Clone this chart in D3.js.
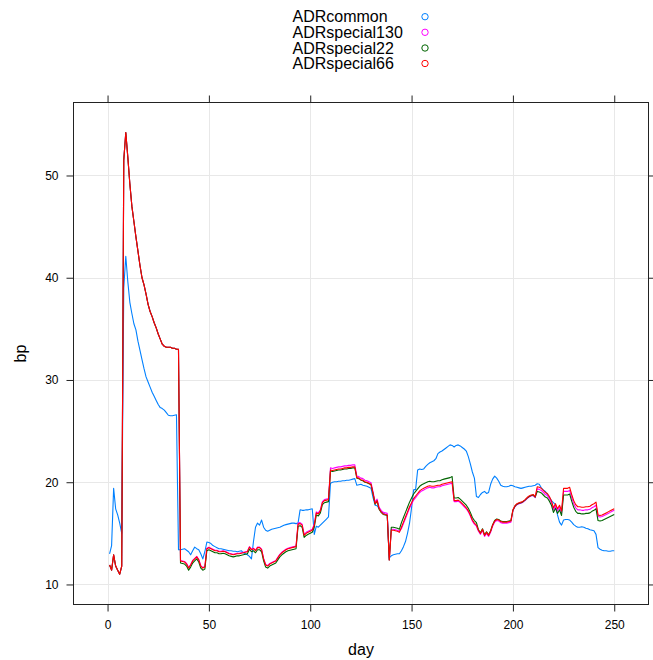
<!DOCTYPE html>
<html>
<head>
<meta charset="utf-8">
<script src="https://cdn.jsdelivr.net/npm/d3@7/dist/d3.min.js"></script>
<style>
  html, body { margin: 0; padding: 0; background: #fff; }
  svg { display: block; font-family: "Liberation Sans", Arial, Helvetica, sans-serif; }
</style>
</head>
<body>
<svg id="chart" width="653" height="660"></svg>
<script>
// Daily spread series (bp) for days 1..250
const days = d3.range(1, 251);

const seriesNames = ["ADRcommon", "ADRspecial130", "ADRspecial22", "ADRspecial66"];
const seriesColors = ["#0080ff", "#ff00ff", "#006400", "#ff0000"];

const ADRcommon = [
  13.0, 13.8, 19.4, 17.4, 16.8, 16.0, 15.0, 39.0, 42.1, 39.6,
  37.6, 36.5, 35.5, 34.9, 33.8, 32.9, 32.0, 31.1, 30.3, 29.8,
  29.3, 28.8, 28.4, 28.0, 27.6, 27.3, 27.2, 27.05, 26.8, 26.55,
  26.5, 26.5, 26.55, 26.6, 13.4, 13.4, 13.45, 13.5, 13.35, 13.2,
  12.9, 13.3, 13.65, 13.5, 13.4, 13.0, 12.5, 13.2, 14.15, 14.1,
  14.0, 13.8, 13.7, 13.6, 13.5, 13.5, 13.45, 13.4, 13.35, 13.3,
  13.3, 13.25, 13.25, 13.2, 13.25, 13.3, 13.1, 13.0, 12.9, 12.75,
  12.5, 14.2, 15.6, 16.0, 15.8, 16.3, 15.6, 15.3, 15.2, 15.3,
  15.4, 15.45, 15.5, 15.55, 15.6, 15.7, 15.8, 15.85, 15.9, 15.95,
  16.0, 16.0, 15.95, 16.0, 17.3, 17.25, 17.25, 17.3, 17.3, 17.35,
  17.4, 14.9, 15.7, 15.6, 15.8, 16.0, 16.2, 16.4, 16.6, 19.9,
  20.0, 20.05, 20.05, 20.1, 20.1, 20.15, 20.15, 20.2, 20.2, 20.25,
  20.3, 20.35, 19.7, 19.75, 19.8, 19.7, 19.65, 19.6, 19.5, 19.4,
  18.5, 17.75, 17.7, 17.4, 17.1, 17.0, 16.85, 16.8, 12.6, 12.8,
  12.9, 12.95, 13.0, 13.0, 13.3, 13.7, 14.2, 15.0, 16.0, 17.5,
  19.25, 19.3, 21.2, 21.3, 21.25, 21.3, 21.55, 21.75, 21.9, 22.0,
  22.1, 22.3, 22.8, 22.95, 23.05, 23.2, 23.35, 23.5, 23.65, 23.6,
  23.45, 23.6, 23.65, 23.55, 23.4, 23.25, 23.05, 22.5, 21.8, 21.0,
  20.4, 18.6, 18.5, 18.8, 19.0, 19.1, 18.9, 19.0, 19.8, 20.3,
  20.6, 20.4, 20.1, 19.7, 19.6, 19.55, 19.55, 19.6, 19.7, 19.65,
  19.55, 19.5, 19.45, 19.4, 19.45, 19.5, 19.55, 19.6, 19.6, 19.65,
  19.7, 19.85, 19.8, 19.45, 19.25, 19.1, 18.8, 18.5, 18.2, 18.0,
  17.8, 16.8, 16.1, 15.8, 16.3, 16.35, 16.35, 16.3, 16.1, 15.85,
  15.7, 15.6, 15.6, 15.65, 15.6, 15.5, 15.45, 15.35, 15.3, 15.25,
  14.9, 13.6, 13.45, 13.35, 13.3, 13.3, 13.25, 13.25, 13.3, 13.3
];

const ADRspecial130 = [
  11.9, 11.4, 12.9, 11.8, 11.4, 11.0, 11.8, 51.5, 54.2, 51.8,
  49.2, 47.0, 45.5, 44.0, 42.6, 41.2, 40.0, 39.3, 38.4, 37.4,
  36.7, 36.2, 35.6, 35.1, 34.5, 34.0, 33.5, 33.3, 33.2, 33.2,
  33.2, 33.1, 33.1, 33.0, 33.0, 12.35, 12.3, 12.25, 12.05, 11.65,
  11.95, 12.35, 12.55, 12.75, 12.45, 11.85, 11.65, 11.75, 13.55, 13.65,
  13.55, 13.45, 13.35, 13.35, 13.25, 13.25, 13.3, 13.25, 13.15, 13.05,
  13.0, 12.95, 13.0, 13.05, 13.05, 13.1, 13.15, 13.2, 13.25, 13.7,
  13.45, 13.55, 13.35, 13.65, 13.65, 13.45, 12.55, 11.95, 11.85, 12.05,
  12.15, 12.25, 12.35, 12.65, 12.95, 13.15, 13.3, 13.45, 13.55, 13.6,
  13.65, 13.7, 13.75, 16.0, 16.05, 15.9, 14.9, 15.1, 15.2, 15.3,
  15.4, 15.9, 17.1, 17.0, 17.3, 18.1, 18.3, 18.35, 18.4, 21.4,
  21.35, 21.4, 21.45, 21.5, 21.5, 21.55, 21.6, 21.6, 21.65, 21.65,
  21.7, 21.7, 20.6, 20.55, 20.4, 20.35, 20.2, 20.15, 20.05, 19.95,
  19.05, 18.05, 18.35, 17.55, 17.25, 17.05, 17.0, 16.95, 12.4, 15.4,
  15.4, 15.35, 15.3, 15.2, 15.45, 15.95, 16.45, 16.95, 17.45, 17.85,
  18.25, 18.5, 18.75, 19.0, 19.15, 19.25, 19.35, 19.45, 19.5, 19.45,
  19.45, 19.5, 19.55, 19.55, 19.65, 19.7, 19.75, 19.8, 19.85, 19.9,
  18.1, 18.1, 18.15, 18.0, 17.8, 17.6, 17.4, 17.1, 16.7, 16.2,
  15.9, 15.7, 15.2, 14.9, 15.3, 14.7, 15.0, 14.7, 15.1, 15.7,
  16.1, 16.25, 16.2, 16.05, 16.0, 16.0, 16.0, 16.05, 16.1, 17.2,
  17.6, 17.8, 17.9, 17.95, 18.05, 18.2, 18.4, 18.55, 18.65, 18.7,
  18.5, 19.35, 19.3, 19.2, 19.0, 18.8, 18.7, 18.4, 18.0, 17.3,
  17.7, 17.2, 17.55, 17.0, 19.1, 19.1, 19.1, 19.2, 18.5, 17.9,
  17.5, 17.3, 17.3, 17.25, 17.25, 17.3, 17.3, 17.35, 17.5, 17.6,
  17.75, 16.65, 16.6, 16.65, 16.75, 16.85, 16.95, 17.05, 17.15, 17.25
];

const ADRspecial22 = [
  11.9, 11.4, 12.9, 11.8, 11.4, 11.0, 11.8, 51.5, 54.2, 51.8,
  49.2, 47.0, 45.5, 44.0, 42.6, 41.2, 40.0, 39.3, 38.4, 37.4,
  36.7, 36.2, 35.6, 35.1, 34.5, 34.0, 33.5, 33.3, 33.2, 33.2,
  33.2, 33.1, 33.1, 33.0, 33.0, 12.1, 12.05, 12.0, 11.8, 11.4,
  11.7, 12.1, 12.3, 12.5, 12.2, 11.6, 11.4, 11.5, 13.3, 13.4,
  13.3, 13.2, 13.1, 13.1, 13.0, 13.0, 13.05, 13.0, 12.9, 12.8,
  12.75, 12.7, 12.75, 12.8, 12.8, 12.85, 12.9, 12.95, 13.0, 13.45,
  13.2, 13.3, 13.1, 13.4, 13.4, 13.2, 12.3, 11.7, 11.6, 11.8,
  11.9, 12.0, 12.1, 12.4, 12.7, 12.9, 13.05, 13.2, 13.3, 13.35,
  13.4, 13.45, 13.5, 15.7, 15.75, 15.6, 14.6, 14.8, 14.9, 15.0,
  15.1, 15.6, 16.8, 16.7, 17.0, 17.8, 18.0, 18.05, 18.1, 21.1,
  21.05, 21.1, 21.15, 21.2, 21.2, 21.25, 21.3, 21.3, 21.35, 21.35,
  21.4, 21.4, 20.4, 20.35, 20.2, 20.15, 20.0, 19.95, 19.85, 19.75,
  18.85, 17.85, 18.15, 17.35, 17.05, 16.85, 16.8, 16.75, 12.4, 15.6,
  15.6, 15.55, 15.5, 15.4, 16.05, 16.55, 17.05, 17.55, 18.05, 18.45,
  18.85, 19.1, 19.35, 19.6, 19.75, 19.85, 19.95, 20.05, 20.1, 20.05,
  20.05, 20.1, 20.15, 20.15, 20.25, 20.3, 20.35, 20.4, 20.45, 20.55,
  18.45, 18.45, 18.5, 18.35, 18.15, 17.95, 17.75, 17.45, 17.05, 16.55,
  16.25, 16.05, 15.35, 15.05, 15.45, 14.85, 15.15, 14.85, 15.25, 15.85,
  16.25, 16.4, 16.35, 16.2, 16.15, 16.15, 16.15, 16.2, 16.25, 17.25,
  17.65, 17.85, 17.95, 18.0, 18.1, 18.25, 18.45, 18.6, 18.7, 18.75,
  18.55, 19.1, 19.05, 18.95, 18.75, 18.55, 18.45, 18.15, 17.75, 17.05,
  17.45, 16.95, 17.3, 16.75, 18.75, 18.75, 18.75, 18.85, 18.15, 17.55,
  17.15, 16.95, 16.95, 16.9, 16.9, 16.95, 16.95, 17.0, 17.15, 17.25,
  17.4, 16.25, 16.2, 16.25, 16.35, 16.45, 16.55, 16.65, 16.75, 16.85
];

const ADRspecial66 = [
  11.9, 11.4, 12.9, 11.8, 11.4, 11.0, 11.8, 51.5, 54.2, 51.8,
  49.2, 47.0, 45.5, 44.0, 42.6, 41.2, 40.0, 39.3, 38.4, 37.4,
  36.7, 36.2, 35.6, 35.1, 34.5, 34.0, 33.5, 33.3, 33.2, 33.2,
  33.2, 33.1, 33.1, 33.0, 33.0, 12.3, 12.25, 12.2, 12.0, 11.6,
  11.9, 12.3, 12.5, 12.7, 12.4, 11.8, 11.6, 11.7, 13.5, 13.6,
  13.5, 13.4, 13.3, 13.3, 13.2, 13.2, 13.25, 13.2, 13.1, 13.0,
  12.95, 12.9, 12.95, 13.0, 13.0, 13.05, 13.1, 13.15, 13.2, 13.65,
  13.4, 13.5, 13.3, 13.6, 13.6, 13.4, 12.5, 11.9, 11.8, 12.0,
  12.1, 12.2, 12.3, 12.6, 12.9, 13.1, 13.25, 13.4, 13.5, 13.55,
  13.6, 13.65, 13.7, 15.9, 15.95, 15.8, 14.8, 15.0, 15.1, 15.2,
  15.3, 15.8, 17.0, 16.9, 17.2, 18.0, 18.2, 18.25, 18.3, 21.2,
  21.15, 21.2, 21.25, 21.3, 21.3, 21.35, 21.4, 21.4, 21.45, 21.45,
  21.5, 21.5, 20.45, 20.4, 20.25, 20.2, 20.05, 20.0, 19.9, 19.8,
  18.9, 17.9, 18.2, 17.4, 17.1, 16.9, 16.85, 16.8, 12.4, 15.3,
  15.3, 15.25, 15.2, 15.1, 15.6, 16.1, 16.6, 17.1, 17.6, 18.0,
  18.4, 18.65, 18.9, 19.15, 19.3, 19.4, 19.5, 19.6, 19.65, 19.6,
  19.6, 19.65, 19.7, 19.7, 19.8, 19.85, 19.9, 19.95, 20.0, 20.05,
  18.2, 18.2, 18.25, 18.1, 17.9, 17.7, 17.5, 17.2, 16.8, 16.3,
  16.0, 15.8, 15.3, 15.0, 15.4, 14.8, 15.1, 14.8, 15.2, 15.8,
  16.2, 16.35, 16.3, 16.15, 16.1, 16.1, 16.1, 16.15, 16.2, 17.3,
  17.7, 17.9, 18.0, 18.05, 18.15, 18.3, 18.5, 18.65, 18.75, 18.8,
  18.6, 19.55, 19.5, 19.4, 19.2, 19.0, 18.9, 18.6, 18.2, 17.5,
  17.9, 17.4, 17.75, 17.2, 19.4, 19.4, 19.4, 19.5, 18.8, 18.2,
  17.8, 17.6, 17.6, 17.55, 17.55, 17.6, 17.6, 17.65, 17.8, 17.9,
  18.05, 16.8, 16.75, 16.8, 16.9, 17.0, 17.1, 17.2, 17.3, 17.4
];

const seriesValues = [ADRcommon, ADRspecial130, ADRspecial22, ADRspecial66];

const xTicks = [0, 50, 100, 150, 200, 250];
const yTicks = [10, 20, 30, 40, 50];

// Panel geometry
const panel = { left: 73.5, right: 648.5, top: 102.5, bottom: 604.5 };

const svg = d3.select("#chart");

const x = d3.scaleLinear().domain([-16.8, 266.9]).range([panel.left, panel.right]);
const y = d3.scaleLinear().domain([8.04, 57.14]).range([panel.bottom, panel.top]);

// Grid lines
const grid = svg.append("g").attr("stroke", "#e8e8e8").attr("stroke-width", 1);
grid.selectAll("line.vx").data(xTicks).join("line")
  .attr("x1", d => Math.round(x(d)) + 0.5).attr("x2", d => Math.round(x(d)) + 0.5)
  .attr("y1", panel.top).attr("y2", panel.bottom);
grid.selectAll("line.hy").data(yTicks).join("line")
  .attr("y1", d => Math.round(y(d)) + 0.5).attr("y2", d => Math.round(y(d)) + 0.5)
  .attr("x1", panel.left).attr("x2", panel.right);

// Series lines, drawn in key order so the last one sits on top
const line = d3.line().x((d, i) => x(days[i])).y(d => y(d));
const lines = svg.append("g")
  .attr("clip-path", null);
seriesValues.forEach((vals, k) => {
  lines.append("path")
    .attr("d", line(vals))
    .attr("fill", "none")
    .attr("stroke", seriesColors[k])
    .attr("stroke-width", 1.1)
    .attr("stroke-linejoin", "round");
});

// Axes: labelled on left/bottom, tick-only on top/right
function styleAxis(g) {
  g.select(".domain").remove();
  g.selectAll(".tick line").attr("stroke", "#222");
  g.selectAll(".tick text").attr("fill", "#000").attr("font-size", 12)
    .attr("font-family", "'Liberation Sans', Arial, Helvetica, sans-serif");
}
const snapX = v => Math.round(x(v)) + 0.5;
const snapY = v => Math.round(y(v)) + 0.5;
const xs = d3.scaleLinear().domain(x.domain()).range(x.range());

svg.append("g")
  .attr("transform", `translate(0,${panel.bottom})`)
  .call(d3.axisBottom(x).tickValues(xTicks).tickSize(7).tickPadding(9).tickFormat(d3.format("d")))
  .call(styleAxis);
svg.append("g")
  .attr("transform", `translate(0,${panel.top})`)
  .call(d3.axisTop(x).tickValues(xTicks).tickSize(7).tickFormat(""))
  .call(styleAxis);
svg.append("g")
  .attr("transform", `translate(${panel.left},0)`)
  .call(d3.axisLeft(y).tickValues(yTicks).tickSize(7).tickPadding(8).tickFormat(d3.format("d")))
  .call(styleAxis);
svg.append("g")
  .attr("transform", `translate(${panel.right},0)`)
  .call(d3.axisRight(y).tickValues(yTicks).tickSize(7).tickFormat(""))
  .call(styleAxis);

// Panel border
svg.append("rect")
  .attr("x", panel.left).attr("y", panel.top)
  .attr("width", panel.right - panel.left).attr("height", panel.bottom - panel.top)
  .attr("fill", "none").attr("stroke", "#222").attr("stroke-width", 1);

// Axis titles
svg.append("text")
  .attr("x", (panel.left + panel.right) / 2).attr("y", 655)
  .attr("text-anchor", "middle").attr("font-size", 16).attr("fill", "#000")
  .text("day");
svg.append("text")
  .attr("transform", `translate(26,${(panel.top + panel.bottom) / 2}) rotate(-90)`)
  .attr("text-anchor", "middle").attr("font-size", 16).attr("fill", "#000")
  .text("bp");

// Key
const key = svg.append("g");
const keyRows = [16.7, 32.3, 48, 63.5];
seriesNames.forEach((name, k) => {
  key.append("text")
    .attr("x", 292.5).attr("y", keyRows[k]).attr("dy", "0.36em")
    .attr("font-size", 16).attr("fill", "#000")
    .text(name);
  key.append("circle")
    .attr("cx", 425).attr("cy", keyRows[k]).attr("r", 3.2)
    .attr("fill", "none").attr("stroke", seriesColors[k]).attr("stroke-width", 1);
});
</script>
</body>
</html>
